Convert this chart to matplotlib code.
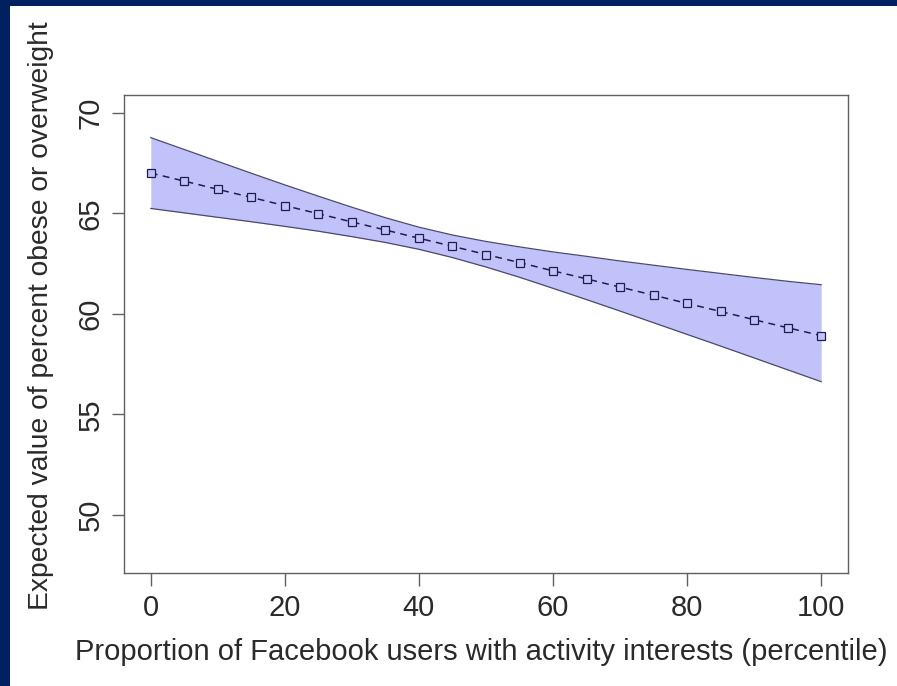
import matplotlib
matplotlib.use("Agg")
import matplotlib.pyplot as plt
from matplotlib.patches import Rectangle

plt.rcParams['font.family'] = ['Liberation Sans', 'DejaVu Sans']

# Percentile of users with activity interests
percentile = [0, 5, 10, 15, 20, 25, 30, 35, 40, 45, 50,
              55, 60, 65, 70, 75, 80, 85, 90, 95, 100]
# Expected percent obese or overweight
expected = [67.00, 66.60, 66.19, 65.79, 65.38, 64.98, 64.57, 64.17, 63.76, 63.36, 62.95,
            62.55, 62.14, 61.74, 61.33, 60.93, 60.52, 60.12, 59.71, 59.31, 58.92]
# Confidence band
upper = [68.76, 68.17, 67.58, 66.99, 66.41, 65.85, 65.30, 64.78, 64.31, 63.92, 63.60,
         63.33, 63.08, 62.86, 62.63, 62.42, 62.21, 62.01, 61.81, 61.62, 61.45]
lower = [65.24, 65.02, 64.80, 64.58, 64.35, 64.11, 63.84, 63.55, 63.21, 62.80, 62.33,
         61.82, 61.27, 60.71, 60.14, 59.56, 58.98, 58.40, 57.81, 57.22, 56.63]

x_ticks = [0, 20, 40, 60, 80, 100]
y_ticks = [50, 55, 60, 65, 70]

W, H = 897, 686
fig = plt.figure(figsize=(W / 100, H / 100), dpi=100)
fig.patch.set_facecolor("white")

navy = "#002060"
fig.patches.append(Rectangle((0, 1 - 6 / H), 1, 6 / H, transform=fig.transFigure,
                             facecolor=navy, edgecolor="none", zorder=-10))
fig.patches.append(Rectangle((0, 0), 10 / W, 1, transform=fig.transFigure,
                             facecolor=navy, edgecolor="none", zorder=-10))

left, right, top, bottom = 124, 848, 95, 573
ax = fig.add_axes([left / W, 1 - bottom / H, (right - left) / W, (bottom - top) / H])

band = "#c2c2fa"
ax.fill_between(percentile, lower, upper, color=band, linewidth=0, zorder=1)
ax.plot(percentile, upper, color="#4a4a6e", linewidth=0.9, zorder=2)
ax.plot(percentile, lower, color="#4a4a6e", linewidth=0.9, zorder=2)
ax.plot(percentile, expected, color="#1e1e4e", linewidth=1.1, linestyle=(0, (4.5, 3.5)),
        marker="s", markersize=5.6, markerfacecolor=band,
        markeredgecolor="#1e1e4e", markeredgewidth=0.9, zorder=3)

ax.set_xlim(-4, 104)
ax.set_ylim(47.12, 70.88)
ax.set_xticks(x_ticks)
ax.set_yticks(y_ticks)

edge = "#606060"
for s in ax.spines.values():
    s.set_color(edge)
    s.set_linewidth(1.0)
ax.tick_params(axis="both", direction="out", length=9, width=1.0, color=edge,
               labelsize=21, labelcolor="#2a2a2a")
ax.tick_params(axis="x", pad=6)
ax.tick_params(axis="y", pad=5)
for lab in ax.get_yticklabels():
    lab.set_rotation(90)
    lab.set_va("center")

fig.text(481 / W, 1 - 652 / H, "Proportion of Facebook users with activity interests (percentile)",
         ha="center", va="center", fontsize=21, color="#2a2a2a")
fig.text(41 / W, 1 - 316 / H, "Expected value of percent obese or overweight",
         ha="center", va="center", rotation=90, fontsize=20.3, color="#2a2a2a")

fig.savefig("out.png", dpi=100, facecolor=fig.get_facecolor())
